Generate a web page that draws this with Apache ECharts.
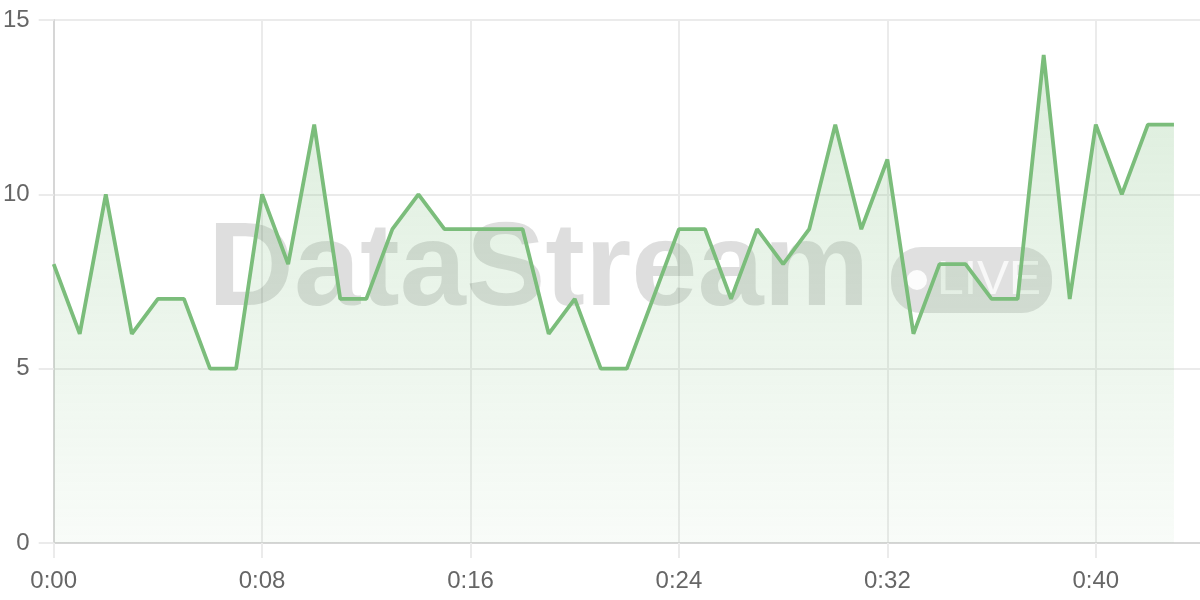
<!DOCTYPE html>
<html>
<head>
<meta charset="utf-8">
<script src="https://cdn.jsdelivr.net/npm/echarts@6/dist/echarts.min.js"></script>
<style>
html,body{margin:0;padding:0;background:#fff;}
#chart{width:1200px;height:600px;}
</style>
</head>
<body>
<div id="chart"></div>
<script>
// Data (seconds elapsed, value)
const seconds = [0,1,2,3,4,5,6,7,8,9,10,11,12,13,14,15,16,17,18,19,20,21,22,23,24,25,26,27,28,29,30,31,32,33,34,35,36,37,38,39,40,41,42,43];
const values  = [8,6,10,6,7,7,5,5,10,8,12,7,7,9,10,9,9,9,9,6,7,5,5,7,9,9,7,9,8,9,12,9,11,6,8,8,7,7,14,7,12,10,12,12];
const xTicks = [0,8,16,24,32,40];
const yTicks = [0,5,10,15];
const watermarkText = 'DataStream';
const badgeText = 'LIVE';

function fmt(s){ const m = Math.floor(s/60); const r = s%60; return m + ':' + (r<10?'0':'') + r; }

const chart = echarts.init(document.getElementById('chart'));
const lineColor = '#7bbd7b';
chart.setOption({
  animation: false,
  grid: {left: 53, right: 0, top: 20, bottom: 57},
  graphic: [
    {type:'text', z: 1, x: 208, y: 272, silent: true,
     style:{text: watermarkText, font: 'bold 119px "Liberation Sans", Arial, sans-serif', fill:'rgba(0,0,0,0.13)', align:'left', verticalAlign:'middle'}},
    {type:'rect', z: 1, silent: true, shape:{x: 891, y: 247, width: 161, height: 66, r: 30}, style:{fill:'rgba(0,0,0,0.12)'}},
    {type:'circle', z: 1, silent: true, shape:{cx: 917, cy: 280, r: 10}, style:{fill:'rgba(255,255,255,0.9)'}},
    {type:'text', z: 1, x: 937, y: 281, silent: true,
     style:{text: badgeText, font: '48px "Liberation Sans", Arial, sans-serif', fill:'rgba(255,255,255,0.75)', align:'left', verticalAlign:'middle'}}
  ],
  xAxis: {
    type: 'value', min: 0, max: 44, interval: 8,
    axisLine: {show: true, lineStyle: {color: '#d6d6d6', width: 2}},
    axisTick: {show: true, length: 15, customValues: xTicks, lineStyle: {color: '#ebebeb', width: 2}},
    splitLine: {show: true, lineStyle: {color: '#ebebeb', width: 2}},
    axisLabel: {
      color: '#666', fontSize: 24, margin: 26, fontFamily: '"Liberation Sans", Arial, sans-serif',
      customValues: xTicks,
      formatter: v => fmt(v)
    }
  },
  yAxis: {
    type: 'value', min: 0, max: 15, interval: 5,
    axisLine: {show: true, lineStyle: {color: '#d6d6d6', width: 2}},
    axisTick: {show: true, length: 15, lineStyle: {color: '#ebebeb', width: 2}},
    splitLine: {show: true, lineStyle: {color: '#ebebeb', width: 2}},
    axisLabel: {color: '#666', fontSize: 24, margin: 24, fontFamily: '"Liberation Sans", Arial, sans-serif'}
  },
  series: [{
    type: 'line',
    z: 3,
    data: seconds.map((s, i) => [s, values[i]]),
    showSymbol: false,
    symbol: 'none',
    lineStyle: {color: lineColor, width: 3.8},
    itemStyle: {color: lineColor},
    areaStyle: {
      color: new echarts.graphic.LinearGradient(0, 0, 0, 1, [
        {offset: 0, color: 'rgba(123,189,123,0.38)'},
        {offset: 1, color: 'rgba(123,189,123,0.07)'}
      ])
    }
  }]
});
</script>
</body>
</html>
